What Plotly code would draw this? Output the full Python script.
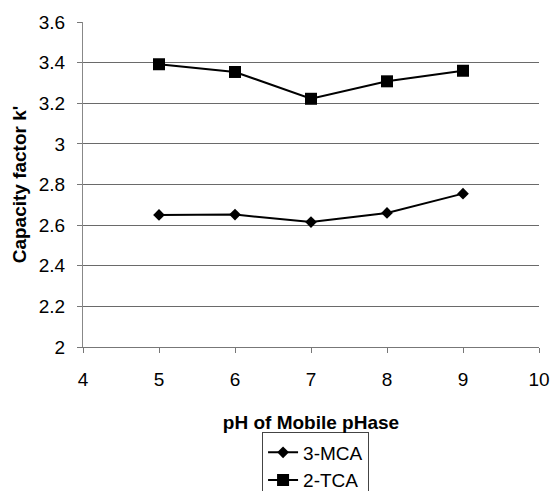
import plotly.graph_objects as go

# pH of the mobile phase
ph = [5, 6, 7, 8, 9]

# Capacity factor k' for each analyte
k_mca = [2.65, 2.652, 2.615, 2.66, 2.755]
k_tca = [3.392, 3.354, 3.222, 3.308, 3.36]

x_ticks = [4, 5, 6, 7, 8, 9, 10]
y_ticks = [2, 2.2, 2.4, 2.6, 2.8, 3, 3.2, 3.4, 3.6]
y_tick_text = ["2", "2.2", "2.4", "2.6", "2.8", "3", "3.2", "3.4", "3.6"]

FONT = "Liberation Sans, Arial, sans-serif"

fig = go.Figure()
fig.add_trace(go.Scatter(
    x=ph, y=k_mca, name="3-MCA", mode="lines+markers", legendgroup="a",
    line=dict(color="black", width=2),
    marker=dict(symbol="diamond", size=9, color="black"),
))
fig.add_trace(go.Scatter(
    x=ph, y=k_tca, name="2-TCA", mode="lines+markers", legendgroup="b",
    line=dict(color="black", width=2),
    marker=dict(symbol="square", size=12, color="black"),
))

fig.update_layout(
    width=552, height=491,
    margin=dict(l=83, r=13, t=22, b=144, autoexpand=False),
    paper_bgcolor="white", plot_bgcolor="white",
    font=dict(family=FONT, size=19, color="black"),
    showlegend=True,
    legend=dict(
        x=0.51, xanchor="center", y=-0.263, yanchor="top",
        bordercolor="#444", borderwidth=1, bgcolor="white",
        font=dict(size=19), tracegroupgap=0,
    ),
)

fig.update_xaxes(
    range=[4, 10], tickvals=x_ticks, ticktext=[str(v) for v in x_ticks],
    showgrid=False, zeroline=False,
    showline=True, linecolor="#777", linewidth=1,
    ticks="outside", ticklen=5, tickcolor="#777",
    ticklabelstandoff=10,
    title=dict(text="<b>pH of Mobile pHase</b>", font=dict(size=19), standoff=26),
)
fig.update_yaxes(
    range=[2, 3.6], tickvals=y_ticks, ticktext=y_tick_text,
    showgrid=True, gridcolor="#6a6a6a", gridwidth=1, zeroline=False,
    showline=True, linecolor="#888", linewidth=1,
    ticks="outside", ticklen=5, tickcolor="#777",
    ticklabelstandoff=8,
    title=dict(text="<b>Capacity factor k'</b>", font=dict(size=19), standoff=7),
)

fig.write_html("out.html")
